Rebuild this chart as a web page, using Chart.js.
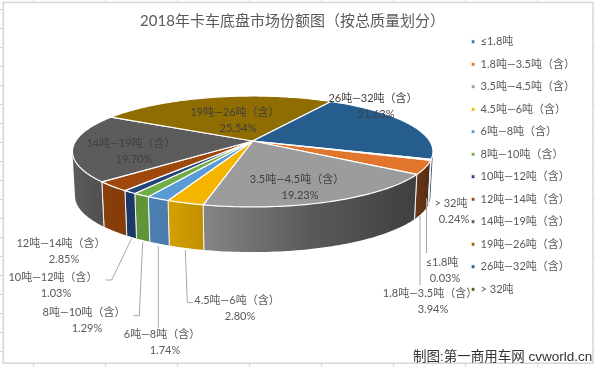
<!DOCTYPE html>
<html lang="zh">
<head>
    <meta charset="UTF-8">
    <title>2018年卡车底盘市场份额图</title>
    <script src="https://cdn.jsdelivr.net/npm/chart.js"></script>
    <style>
        html, body { margin: 0; padding: 0; background: #fff; overflow: hidden; }
        canvas { display: block; }
    </style>
</head>
<body>
    <canvas id="pie3d" width="595" height="367"></canvas>

    <script>
        const chartTitle = '2018年卡车底盘市场份额图（按总质量划分）';
        const categories = ['≤1.8吨', '1.8吨—3.5吨（含）', '3.5吨—4.5吨（含）', '4.5吨—6吨（含）', '6吨—8吨（含）', '8吨—10吨（含）',
            '10吨—12吨（含）', '12吨—14吨（含）', '14吨—19吨（含）', '19吨—26吨（含）', '26吨—32吨（含）', '> 32吨'];
        const shares = [0.03, 3.94, 19.23, 2.80, 1.74, 1.29, 1.03, 2.85, 19.70, 25.54, 21.63, 0.24];
        const watermark = '制图:第一商用车网 cvworld.cn';

        // 顶面颜色 / 侧面渐变（左到右）
        const topColors = ['#4472C4', '#E2762D', '#9C9C9C', '#F4B400', '#5B9BD5', '#70AD47', '#264478', '#9E480E', '#5C5C5C', '#8F6D00', '#255E8E', '#43682B'];
        const wallColors = [['#2f5597', '#2f5597'], ['#66361a', '#552d0f'], ['#858585', '#5a5a5a', '#3f3f3f'], ['#d4a000', '#c29000'],
            ['#4a80b5', '#4a7aa8'], ['#5f9438', '#5f9438'], ['#1c3866', '#1c3866'], ['#8a3f0a', '#853c0a'],
            ['#5c5c5c', '#505050'], ['#7a5d00', '#7a5d00'], ['#1f4e79', '#1f4e79'], ['#1f3a5a', '#1f3a5a']];

        // 标签中心位置，顺序同 categories
        const labelSpots = [[442, 262], [430, 293], [297, 179], [237, 300], [162, 334], [84, 312],
            [53, 277], [61, 243], [131, 143], [235, 112], [373, 98], [451, 203]];
        const insideLabels = [2, 8, 9, 10];
        const leaders = [
            [[426.5, 198], [426.5, 253]],
            [[420, 216], [420, 285]],
            [[185.3, 250], [187.3, 302.7], [193, 302.7]],
            [[158.3, 246], [158.3, 328]],
            [[142.7, 242], [139.3, 315.7], [133.3, 315.7]],
            [[131.7, 238.3], [111.7, 280], [105.7, 280]]
        ];

        // 透视投影参数（顶面、底面）
        const topFace = { cx: 252.7, cy: 141, rx: 177, ry: 53.5, k: 0.189 };
        const baseFace = { cx: 252.7, cy: 185.5, rx: 174.5, ry: 54, k: 0.189 };
        const wallFrom = Math.asin(topFace.k);
        const wallTo = Math.PI - wallFrom;

        function project(face, a) {
            const w = 1 - face.k * Math.sin(a);
            return { x: face.cx + face.rx * Math.cos(a) / w, y: face.cy + face.ry * Math.sin(a) / w };
        }

        function traceRim(ctx, face, from, to) {
            const steps = Math.max(2, Math.ceil(Math.abs(to - from) / 0.02));
            for (let i = 0; i <= steps; i++) {
                const p = project(face, from + (to - from) * i / steps);
                ctx.lineTo(p.x, p.y);
            }
        }

        function drawWall(ctx, arc, idx, lo, hi, bounds) {
            const a = project(topFace, lo), b = project(topFace, hi);
            const left = Math.min(a.x, b.x), right = Math.max(a.x, b.x);
            const grad = ctx.createLinearGradient(left, 0, right + 0.01, 0);
            wallColors[idx].forEach((c, i, all) => grad.addColorStop(i / (all.length - 1), c));
            ctx.beginPath();
            traceRim(ctx, topFace, lo, hi);
            traceRim(ctx, baseFace, hi, lo);
            ctx.closePath();
            ctx.fillStyle = grad;
            ctx.fill();
            ctx.strokeStyle = '#f2f2f2';
            ctx.lineWidth = 1;
            bounds.forEach(ang => {
                const t = project(topFace, ang), u = project(baseFace, ang);
                ctx.beginPath();
                ctx.moveTo(t.x, t.y);
                ctx.lineTo(u.x, u.y);
                ctx.stroke();
            });
        }

        const pie3d = {
            id: 'pie3d',
            beforeDraw(chart) {
                const ctx = chart.ctx;
                ctx.save();
                // 表格边框
                ctx.strokeStyle = '#d6d6d6';
                ctx.lineWidth = 1.5;
                ctx.strokeRect(3.2, 2.4, 589.8, 360.8);
                ctx.lineWidth = 1;
                for (let x = 33.5; x < 590; x += 72) {
                    ctx.beginPath(); ctx.moveTo(x, 0); ctx.lineTo(x, 2); ctx.moveTo(x, 364); ctx.lineTo(x, 367); ctx.stroke();
                }
                for (let y = 9.5; y < 362; y += 19) {
                    ctx.beginPath(); ctx.moveTo(0, y); ctx.lineTo(3, y); ctx.moveTo(593.5, y); ctx.lineTo(595, y); ctx.stroke();
                }
                ctx.restore();
            },
            beforeDatasetsDraw(chart) {
                const ctx = chart.ctx;
                const arcs = chart.getDatasetMeta(0).data;
                ctx.save();
                ctx.lineJoin = 'round';

                // 侧面
                arcs.forEach((arc, i) => {
                    [0, -2 * Math.PI].forEach(shift => {
                        const s = arc.startAngle + shift, e = arc.endAngle + shift;
                        const lo = Math.max(s, wallFrom), hi = Math.min(e, wallTo);
                        if (hi > lo) drawWall(ctx, arc, i, lo, hi, [s, e].filter(v => v >= wallFrom && v <= wallTo));
                    });
                });

                // 顶面
                arcs.forEach(arc => {
                    const o = arc.options;
                    const c = project(topFace, Math.PI / 2);
                    ctx.beginPath();
                    ctx.moveTo(topFace.cx, topFace.cy);
                    traceRim(ctx, topFace, arc.startAngle, arc.endAngle);
                    ctx.closePath();
                    ctx.fillStyle = o.backgroundColor;
                    ctx.fill();
                    ctx.strokeStyle = o.borderColor;
                    ctx.lineWidth = o.borderWidth;
                    ctx.stroke();
                });

                // 引导线
                ctx.strokeStyle = '#a6a6a6';
                ctx.lineWidth = 1;
                leaders.forEach(line => {
                    ctx.beginPath();
                    line.forEach((p, i) => i ? ctx.lineTo(p[0], p[1]) : ctx.moveTo(p[0], p[1]));
                    ctx.stroke();
                });

                // 数据标签
                ctx.font = '11px Lato, "Noto Sans CJK SC"';
                ctx.textAlign = 'center';
                ctx.textBaseline = 'middle';
                categories.forEach((name, i) => {
                    const [x, y] = labelSpots[i];
                    ctx.fillStyle = insideLabels.includes(i) ? '#404040' : '#595959';
                    ctx.fillText(name, x, y);
                    ctx.fillText(shares[i].toFixed(2) + '%', x + 3, y + 16);
                });

                ctx.font = '13.5px "Liberation Sans", "Noto Sans CJK SC"';
                ctx.textAlign = 'left';
                ctx.fillStyle = '#333333';
                ctx.fillText(watermark, 413, 357);
                ctx.restore();
                return false;
            }
        };

        new Chart(document.getElementById('pie3d').getContext('2d'), {
            type: 'pie',
            data: {
                labels: categories,
                datasets: [{
                    data: shares,
                    backgroundColor: topColors,
                    borderColor: '#ffffff',
                    borderWidth: 1.2
                }]
            },
            options: {
                responsive: false,
                animation: false,
                rotation: 109.7,
                layout: { padding: { right: 10, bottom: 36 } },
                plugins: {
                    title: {
                        display: true,
                        text: chartTitle,
                        color: '#595959',
                        font: { family: 'Lato, "Noto Sans CJK SC"', size: 15, weight: 'normal' },
                        padding: { top: 12, bottom: 8 }
                    },
                    legend: {
                        position: 'right',
                        labels: {
                            color: '#595959',
                            font: { family: 'Lato, "Noto Sans CJK SC"', size: 11 },
                            boxWidth: 4,
                            boxHeight: 4,
                            padding: 11.5
                        }
                    },
                    tooltip: { enabled: false }
                }
            },
            plugins: [pie3d]
        });
    </script>
</body>
</html>
